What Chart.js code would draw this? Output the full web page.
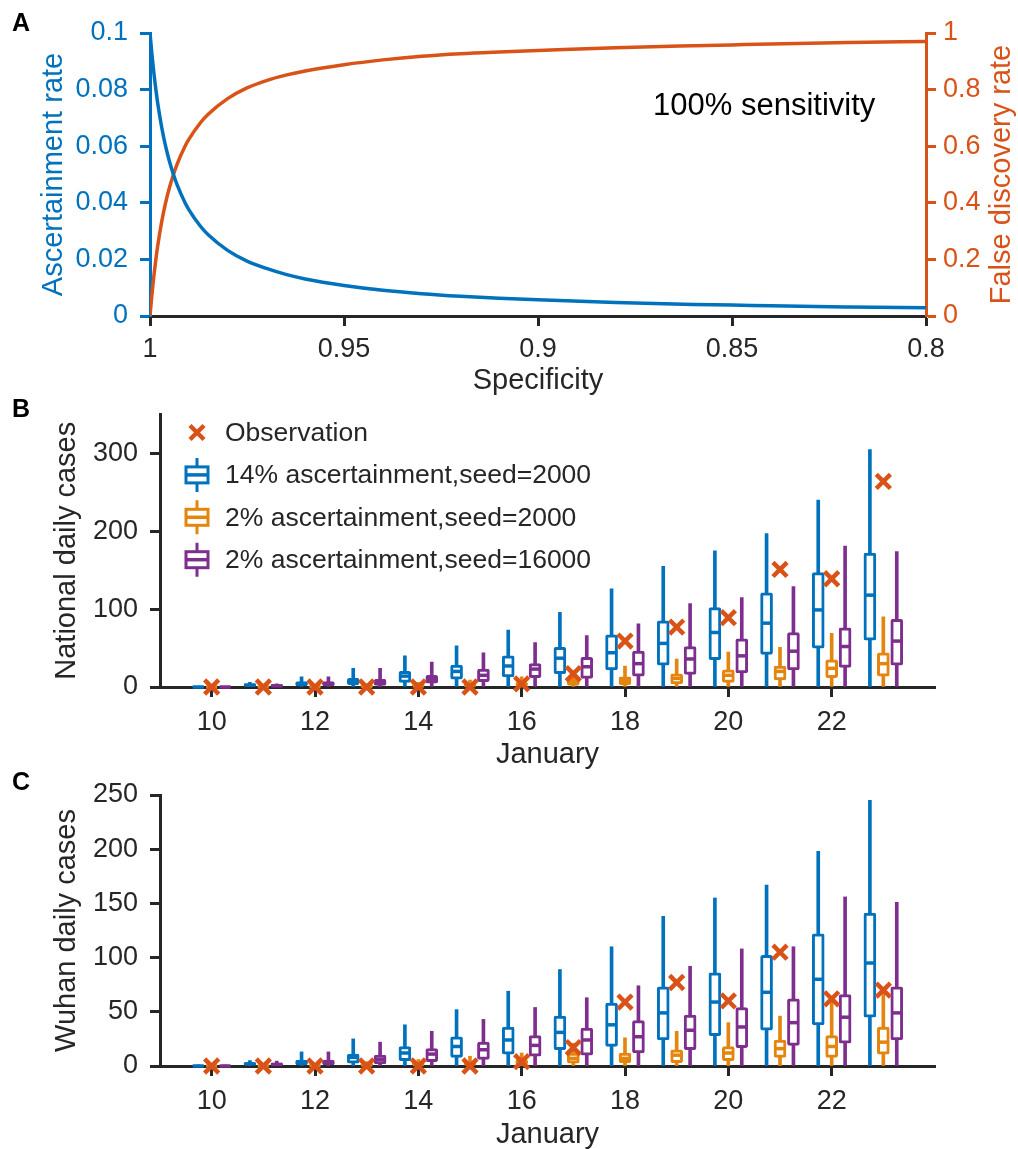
<!DOCTYPE html>
<html>
<head>
<meta charset="utf-8">
<script src="https://cdn.jsdelivr.net/npm/chart.js@4.4.1/dist/chart.umd.min.js"></script>
<style>
  html, body { margin: 0; padding: 0; background: #fff; }
  body { position: relative; width: 1018px; height: 1149px; overflow: hidden;
         font-family: "Liberation Sans", Arial, Helvetica, sans-serif; color: #262626; }
  canvas { position: absolute; left: 0; }
  .tag { position: absolute; left: 12px; font-size: 25px; font-weight: bold; line-height: 25px; color: #000; }
  .note { position: absolute; left: 653px; top: 87px; font-size: 31px; line-height: 36px; color: #000; white-space: nowrap; }
</style>
</head>
<body>
<canvas id="chartA" width="1018" height="400" style="top:0"></canvas>
<canvas id="chartB" width="1018" height="370" style="top:400px"></canvas>
<canvas id="chartC" width="1018" height="379" style="top:770px"></canvas>
<div class="tag" style="top:10px">A</div>
<div class="tag" style="top:396px">B</div>
<div class="tag" style="top:769px">C</div>
<div class="note">100% sensitivity</div>
<script>
var INK = '#262626';
var BLUE = '#0072BD', RED = '#D95319', GOLD = '#E3850E', PURPLE = '#7E2F8E';
var FONT = '"Liberation Sans", Arial, Helvetica, sans-serif';

// panel A: specificity sweep
var specificity = [1, 0.9995, 0.999, 0.9985, 0.998, 0.997, 0.996, 0.995, 0.994, 0.993, 0.991,
  0.99, 0.987, 0.985, 0.98, 0.975, 0.97, 0.965, 0.96, 0.95, 0.94, 0.93, 0.92, 0.91, 0.9,
  0.88, 0.86, 0.85, 0.84, 0.82, 0.8];
var ascertainRate = [0.1, 0.0924, 0.0858, 0.0801, 0.0751, 0.0668, 0.0601, 0.0547, 0.0502, 0.0463, 0.0401,
  0.0376, 0.0317, 0.0287, 0.0232, 0.0194, 0.0168, 0.0147, 0.0131, 0.0108, 0.0091, 0.0079, 0.0070, 0.0063, 0.0057,
  0.0048, 0.0041, 0.0039, 0.0036, 0.0032, 0.0029];
var falseDiscovery = [0, 0.0765, 0.142, 0.199, 0.249, 0.332, 0.399, 0.453, 0.4985, 0.537, 0.599,
  0.624, 0.683, 0.713, 0.768, 0.806, 0.832, 0.851, 0.866, 0.888, 0.905, 0.918, 0.927, 0.933, 0.938,
  0.948, 0.955, 0.958, 0.961, 0.966, 0.970];
var specTicks = [1, 0.95, 0.9, 0.85, 0.8];
var rateTicks = [0, 0.02, 0.04, 0.06, 0.08, 0.1];
var fdrTicks = [0, 0.2, 0.4, 0.6, 0.8, 1];

// panels B, C: days in January, box stats are [min, q1, median, q3, max]
var days = [10, 11, 12, 13, 14, 15, 16, 17, 18, 19, 20, 21, 22, 23];
var dayTicks = [10, 12, 14, 16, 18, 20, 22];
var natTicks = [0, 100, 200, 300];
var wuhanTicks = [0, 50, 100, 150, 200, 250];

var natObserved = [0, 0, 0, 0, 0, 0, 4, 17, 59, 77, 89, 151, 139, 264];
var natAsc14Seed2000 = [[0,0,0,0.5,1], [0,1,2.5,4,6], [0,1.5,4,7,13], [0,3,7,11,24], [0,6,14,20,40],
  [0,10,20,28,53], [0,13,27,40,73], [0,17,37,51,96], [0,22,44,67,126], [0,28,56,85,155],
  [0,35,70,102,175], [0,42,82,121,197], [0,50,99,147,240], [0,60,118,172,305]];
var natAsc2Seed2000 = [[0,0,0,0,0.5], [0,0,0,0.5,1], [0,0,0.5,1,2], [0,0.5,1,2,4], [0,1,1.5,3,6],
  [0,1,2,4,9], [0,1.5,3,6,13], [0,2,5,10,20], [0,3,8,13,27], [0,4,11,17,36],
  [0,6,15,22,45], [0,9,20,27,51], [0,12,24,35,69], [0,14,30,44,90]];
var natAsc2Seed16000 = [[0,0,0,0.5,1], [0,0.5,1.5,3,4], [0,1.5,4,7,13], [0,2,5.5,10,24], [0,5,10,15,32],
  [0,7,15,23,44], [0,12,23,30,57], [0,11,26,38,66], [0,14,30,46,81], [0,16,36,52,107],
  [0,18,40,62,115], [0,22,46,70,129], [0,25,52,76,181], [0,28,59,87,174]];

var wuhanObserved = [0, 0, 0, 0, 0, 0, 4, 17, 59, 77, 60, 105, 62, 70];
var wuhanAsc14Seed2000 = [[0,0,0,0.5,1], [0,1,2,3,5], [0,1,3,5.5,13], [0,2.5,8,11,25], [0,5,12,18,38],
  [0,8,18,27,52], [0,11,24,36,69], [0,15,31,46,89], [0,18,38,58,110], [0,24,49,73,138],
  [0,28,59,86,155], [0,33,68,102,167], [0,38,80,122,198], [0,45,95,141,245]];
var wuhanAsc2Seed2000 = [[0,0,0,0,0.5], [0,0,0,0.5,1], [0,0,0.5,1,2], [0,0.5,1,2,4], [0,1,1.5,3,6],
  [0,1,2,4,9], [0,1.5,3,6,12], [0,2.5,7,12,21], [0,3,7,12,26], [0,3,10,15,32],
  [0,5,12,18,40], [0,8,16,24,46], [0,8,18,28,64], [0,11,22,36,72]];
var wuhanAsc2Seed16000 = [[0,0,0,0.5,1], [0,0.5,1.5,2.5,4.5], [0,1,3,5.5,13], [0,2,6,10,22], [0,4,11,16,32],
  [0,6,15,22,43], [0,9,19,28,54], [0,10,24,35,63], [0,12,27,42,74], [0,15,33,47,92],
  [0,17,36,54,108], [0,19,40,62,110], [0,21,45,66,156], [0,24,49,73,151]];

var legendLabels = ['Observation', '14% ascertainment,seed=2000', '2% ascertainment,seed=2000', '2% ascertainment,seed=16000'];

Chart.defaults.font.family = FONT;
Chart.defaults.color = INK;

function fixTicks(list) {
  return function (scale) {
    scale.ticks = list.map(function (v) { return { value: v }; });
  };
}
function plain(v) { return String(v); }

function valueAxis(opts) {
  return {
    type: 'linear',
    position: opts.position || 'left',
    min: opts.min, max: opts.max,
    afterBuildTicks: fixTicks(opts.ticks),
    afterFit: function (s) { s.width = opts.width; s.paddingTop = 0; s.paddingBottom = 0; },
    border: { color: opts.color, width: 3 },
    grid: { drawOnChartArea: false, tickLength: 10, tickWidth: 3, tickColor: opts.color },
    ticks: { color: opts.color, font: { size: 27 }, padding: opts.pad, autoSkip: false, callback: plain },
    title: {
      display: !!opts.title, text: opts.title, color: opts.color,
      font: { size: 29, lineHeight: 1 }, padding: { top: opts.titlePad, bottom: 0 }
    }
  };
}

function bottomAxis(opts) {
  return {
    type: 'linear', min: opts.min, max: opts.max, reverse: !!opts.reverse, offset: false,
    afterBuildTicks: fixTicks(opts.ticks),
    afterFit: function (s) { s.height = opts.height; s.paddingLeft = 0; s.paddingRight = 0; },
    border: { color: INK, width: 3 },
    grid: { drawOnChartArea: false, offset: false, tickLength: 10, tickWidth: 3, tickColor: INK },
    ticks: { color: INK, font: { size: 27 }, padding: opts.tickPad, maxRotation: 0, autoSkip: false, callback: plain },
    title: {
      display: true, text: opts.title, color: INK,
      font: { size: 29, lineHeight: 1 }, padding: { top: 0, bottom: opts.titlePad }
    }
  };
}

// right-hand title reads bottom to top, like the left one
var rightTitle = {
  id: 'rightTitle',
  afterDraw: function (chart) {
    var ctx = chart.ctx, a = chart.chartArea;
    ctx.save();
    ctx.translate(chart.scales.yR.right - 16, (a.top + a.bottom) / 2);
    ctx.rotate(-Math.PI / 2);
    ctx.font = '29px ' + FONT;
    ctx.fillStyle = RED;
    ctx.textAlign = 'center';
    ctx.textBaseline = 'middle';
    ctx.fillText('False discovery rate', 0, 0);
    ctx.restore();
  }
};

new Chart(document.getElementById('chartA'), {
  type: 'scatter',
  data: {
    datasets: [{
      data: specificity.map(function (s, i) { return { x: s, y: ascertainRate[i] }; }),
      yAxisID: 'yL', showLine: true, borderColor: BLUE, borderWidth: 3.5,
      pointRadius: 0, cubicInterpolationMode: 'monotone'
    }, {
      data: specificity.map(function (s, i) { return { x: s, y: falseDiscovery[i] }; }),
      yAxisID: 'yR', showLine: true, borderColor: RED, borderWidth: 3.5,
      pointRadius: 0, cubicInterpolationMode: 'monotone'
    }]
  },
  options: {
    responsive: false, animation: false, events: [],
    layout: { padding: { top: 33, right: 0, bottom: 0, left: 0 } },
    plugins: { legend: { display: false }, tooltip: { enabled: false } },
    scales: {
      x: bottomAxis({ min: 0.8, max: 1, reverse: true, ticks: specTicks, height: 84, title: 'Specificity', titlePad: 5, tickPad: 7 }),
      yL: valueAxis({ min: 0, max: 0.1, ticks: rateTicks, width: 150, color: BLUE, pad: 12, title: 'Ascertainment rate', titlePad: 39 }),
      yR: valueAxis({ position: 'right', min: 0, max: 1, ticks: fdrTicks, width: 92, color: RED, pad: 7 })
    }
  },
  plugins: [rightTitle]
});

function boxSets(series, color, shift) {
  var at = function (i) { return days[i] + shift; };
  return [{
    type: 'bar', order: 30, grouped: false, barThickness: 3,
    data: series.map(function (b, i) { return { x: at(i), y: [b[0], b[4]] }; }),
    backgroundColor: color, borderWidth: 0
  }, {
    type: 'bar', order: 20, grouped: false, barThickness: 12,
    data: series.map(function (b, i) { return { x: at(i), y: [b[1], b[3]] }; }),
    backgroundColor: '#fff', borderColor: color, borderWidth: 3, borderSkipped: false, borderRadius: 2
  }, {
    type: 'scatter', order: 10, clip: false,
    data: series.map(function (b, i) { return { x: at(i), y: b[2] }; }),
    pointStyle: 'line', pointRadius: 5.5, pointBorderWidth: 3.5, pointBorderColor: color, borderColor: color
  }];
}

function obsSet(values) {
  return {
    type: 'scatter', order: 1, clip: false,
    data: values.map(function (v, i) { return { x: days[i], y: v }; }),
    pointStyle: 'crossRot', pointRadius: 10, pointBorderWidth: 4.5, pointBorderColor: RED, borderColor: RED
  };
}

function drawX(ctx, x, y, h) {
  ctx.strokeStyle = RED;
  ctx.lineWidth = 4.5;
  ctx.beginPath();
  ctx.moveTo(x - h, y - h); ctx.lineTo(x + h, y + h);
  ctx.moveTo(x - h, y + h); ctx.lineTo(x + h, y - h);
  ctx.stroke();
}

function drawBoxIcon(ctx, x, y, color) {
  ctx.strokeStyle = color;
  ctx.lineWidth = 3;
  ctx.beginPath();
  ctx.moveTo(x, y - 17); ctx.lineTo(x, y - 8);
  ctx.moveTo(x, y + 8); ctx.lineTo(x, y + 17);
  ctx.stroke();
  ctx.strokeRect(x - 11, y - 8, 22, 16);
  ctx.lineWidth = 3.5;
  ctx.beginPath();
  ctx.moveTo(x - 11, y); ctx.lineTo(x + 11, y);
  ctx.stroke();
}

var boxLegend = {
  id: 'boxLegend',
  afterDraw: function (chart) {
    var ctx = chart.ctx, a = chart.chartArea;
    var colors = [RED, BLUE, GOLD, PURPLE];
    ctx.save();
    legendLabels.forEach(function (label, i) {
      var cx = a.left + 37, cy = a.top + 18 + i * 42.4;
      if (i === 0) drawX(ctx, cx, cy, 7); else drawBoxIcon(ctx, cx, cy, colors[i]);
      ctx.font = '26.5px ' + FONT;
      ctx.fillStyle = INK;
      ctx.textBaseline = 'middle';
      ctx.textAlign = 'left';
      ctx.fillText(label, a.left + 65, cy + 1);
    });
    ctx.restore();
  }
};

function casesChart(id, opts) {
  var sets = [].concat(
    boxSets(opts.high, BLUE, -0.26),
    boxSets(opts.low, GOLD, 0),
    boxSets(opts.lowSeed, PURPLE, 0.26),
    [obsSet(opts.observed)]
  );
  return new Chart(document.getElementById(id), {
    type: 'bar',
    data: { datasets: sets },
    options: {
      responsive: false, animation: false, events: [],
      layout: { padding: { top: opts.top, right: 83, bottom: 0, left: 0 } },
      plugins: { legend: { display: false }, tooltip: { enabled: false } },
      scales: {
        x: bottomAxis({ min: 9, max: 24, ticks: dayTicks, height: 83, title: 'January', titlePad: opts.xPad, tickPad: 9 }),
        y: valueAxis({ min: 0, max: opts.max, ticks: opts.ticks, width: 160, color: INK, pad: 12, title: opts.title, titlePad: 52 })
      }
    },
    plugins: opts.legend ? [boxLegend] : []
  });
}

casesChart('chartB', {
  high: natAsc14Seed2000, low: natAsc2Seed2000, lowSeed: natAsc2Seed16000, observed: natObserved,
  max: 350, ticks: natTicks, top: 14, xPad: 1, title: 'National daily cases', legend: true
});
casesChart('chartC', {
  high: wuhanAsc14Seed2000, low: wuhanAsc2Seed2000, lowSeed: wuhanAsc2Seed16000, observed: wuhanObserved,
  max: 250, ticks: wuhanTicks, top: 25, xPad: 0, title: 'Wuhan daily cases', legend: false
});
</script>
</body>
</html>
